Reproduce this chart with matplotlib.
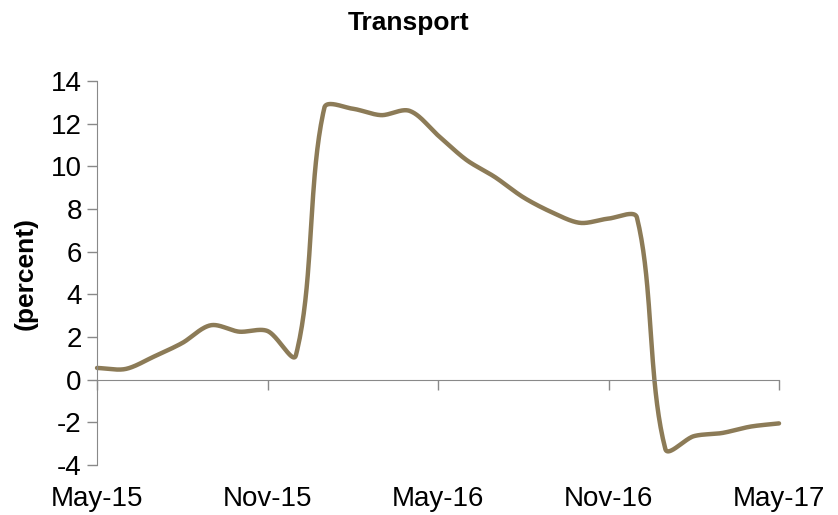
import numpy as np
import matplotlib.pyplot as plt
from matplotlib.transforms import blended_transform_factory

plt.rcParams['font.family'] = ['Liberation Sans', 'DejaVu Sans']
plt.rcParams['axes.unicode_minus'] = False

# Monthly values, May-15 .. May-17 (percent)
months = ['May-15', 'Jun-15', 'Jul-15', 'Aug-15', 'Sep-15', 'Oct-15', 'Nov-15', 'Dec-15',
          'Jan-16', 'Feb-16', 'Mar-16', 'Apr-16', 'May-16', 'Jun-16', 'Jul-16', 'Aug-16',
          'Sep-16', 'Oct-16', 'Nov-16', 'Dec-16', 'Jan-17', 'Feb-17', 'Mar-17', 'Apr-17', 'May-17']
values = [0.55, 0.5, 1.08, 1.72, 2.55, 2.25, 2.28, 1.15,
          12.75, 12.7, 12.4, 12.6, 11.45, 10.3, 9.5, 8.55,
          7.85, 7.35, 7.55, 7.6, -3.25, -2.65, -2.5, -2.2, -2.05]
tick_labels = ['May-15', 'Nov-15', 'May-16', 'Nov-16', 'May-17']


def smooth(x, y, sx=28.4, sy=21.36, n=40):
    # Excel-like smoothed line: Bezier segments, tangent length scaled by chord lengths
    # (computed in screen-like units so steep jumps don't overshoot)
    P = np.column_stack([np.asarray(x, float) * sx, np.asarray(y, float) * sy])
    m = len(P)
    tang = np.zeros_like(P)
    for i in range(m):
        a = P[max(i - 1, 0)]
        b = P[min(i + 1, m - 1)]
        tang[i] = b - a
    out = []
    t = np.linspace(0, 1, n)[:, None]
    for i in range(m - 1):
        p0, p3 = P[i], P[i + 1]
        seg = np.linalg.norm(p3 - p0)
        n0 = np.linalg.norm(tang[i]) or 1.0
        n1 = np.linalg.norm(tang[i + 1]) or 1.0
        c1 = p0 + tang[i] / n0 * seg * 0.3
        c2 = p3 - tang[i + 1] / n1 * seg * 0.3
        b = (1 - t) ** 3 * p0 + 3 * (1 - t) ** 2 * t * c1 + 3 * (1 - t) * t ** 2 * c2 + t ** 3 * p3
        out.append(b)
    out = np.vstack(out)
    return out[:, 0] / sx, out[:, 1] / sy


x = np.arange(len(values))
sx, sy = smooth(x, values)

fig = plt.figure(figsize=(8.38, 5.15), dpi=100)
ax = fig.add_axes([0.1158, 0.0971, 0.8138, 0.7456])

ax.plot(sx, sy, color='#8C7B57', linewidth=3.2, solid_capstyle='round', clip_on=False)

ax.set_xlim(0, 24)
ax.set_ylim(-4, 14)
ax.set_yticks(np.arange(-4, 15, 2))
ax.tick_params(axis='y', labelsize=20, length=7, width=1, color='#898989', pad=4)

tick_pos = [months.index(m) for m in tick_labels]
ax.set_xticks(tick_pos)
ax.set_xticklabels([])
ax.tick_params(axis='x', length=7, width=1, color='#898989')
trans = blended_transform_factory(ax.transData, ax.transAxes)
for p, lab in zip(tick_pos, tick_labels):
    ax.text(p, -0.088, lab, transform=trans, ha='center', va='center', fontsize=20)

for s in ['top', 'right']:
    ax.spines[s].set_visible(False)
ax.spines['bottom'].set_position(('data', 0))
ax.spines['bottom'].set_color('#898989')
ax.spines['left'].set_color('#898989')

ax.set_ylabel('(percent)', fontsize=19, fontweight='bold')
ax.yaxis.set_label_coords(-0.087, 0.5)
fig.text(0.488, 0.955, 'Transport', ha='center', va='center', fontsize=19, fontweight='bold')

fig.savefig('out.png', dpi=100)
